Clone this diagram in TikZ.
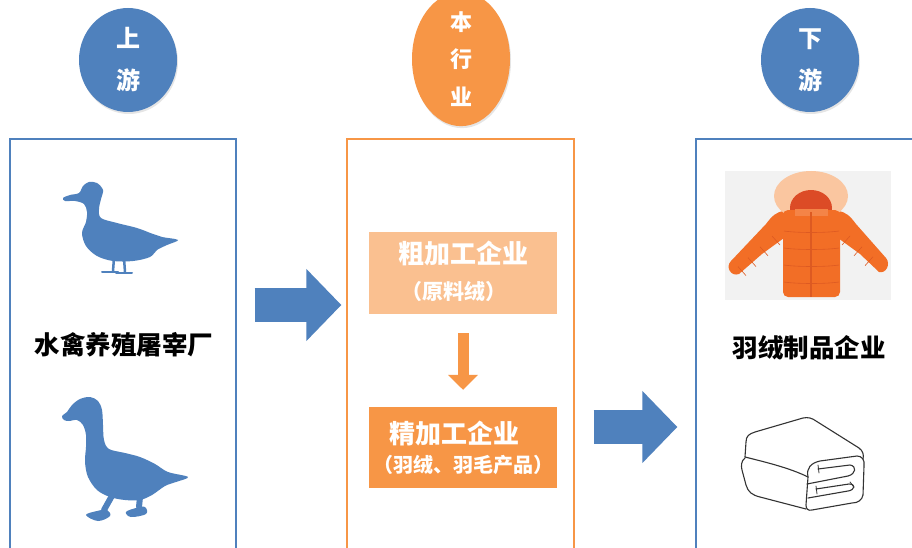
\documentclass[tikz,border=0pt]{standalone}
\usepackage{fontspec}
\setmainfont{Noto Sans CJK SC}
\usetikzlibrary{shapes.geometric,arrows.meta,shadows}

\definecolor{upblue}{HTML}{4F81BD}
\definecolor{midorange}{HTML}{F79646}
\definecolor{lightorange}{HTML}{FAC090}
\definecolor{jacketbg}{HTML}{F2F2F2}
\definecolor{jacket}{HTML}{F26E26}
\definecolor{jacketdark}{HTML}{DD5A22}
\definecolor{fur}{HTML}{FAC6A0}
\definecolor{hood}{HTML}{DC4B26}

\tikzset{
  stage/.style={ellipse, inner sep=0pt, text=white, align=center,
    font=\bfseries\fontsize{24}{42}\selectfont,
    drop shadow={shadow xshift=1pt, shadow yshift=-2pt, opacity=0.2}},
  column/.style={draw, line width=1.3pt, minimum height=422pt, inner sep=0pt},
  procbox/.style={minimum width=188pt, inner sep=0pt},
  flow/.style={draw=upblue, line width=34pt, -{Triangle[length=35pt,width=70pt]}},
  pass/.style={draw=midorange, line width=11pt, -{Triangle[length=15pt,width=29pt]}},
  bird/.style={fill=upblue},
  quilt/.style={draw=jacketdark, line width=0.6pt},
  sheet/.style={draw=black!80, line width=1.1pt, line join=round, line cap=round}
}

\begin{document}
\begin{tikzpicture}[x=1pt,y=-1pt]
\useasboundingbox (0,0) rectangle (912,548);
\fill[white] (0,0) rectangle (912,548);

% stages
\node[stage, fill=upblue, minimum width=98pt, minimum height=104pt] (up) at (128,60) {上\\游};
\node[stage, fill=midorange, minimum width=98pt, minimum height=110pt,
  font=\bfseries\fontsize{22}{37.5}\selectfont] (mid) at (461,59) {本\\行\\业};
\node[stage, fill=upblue, minimum width=98pt, minimum height=104pt] (down) at (810,60) {下\\游};

% columns
\node[column, draw=upblue, minimum width=226pt] (lcol) at (123,350) {};
\node[column, draw=midorange, minimum width=227pt] (mcol) at (460.5,350) {};
\node[column, draw=upblue, minimum width=232pt] (rcol) at (812,350) {};

\node[font=\bfseries\fontsize{25.5}{26}\selectfont] (farm) at (124,345) {水禽养殖屠宰厂};
\node[font=\bfseries\fontsize{25.5}{26}\selectfont] (maker) at (809,348) {羽绒制品企业};

% processing steps
\node[procbox, fill=lightorange, minimum height=82pt] (rough) at (463,273) {};
\node[text=white, font=\bfseries\fontsize{26}{26}\selectfont] (roughname) at (463,254) {粗加工企业};
\node[text=white, font=\bfseries\fontsize{21}{21}\selectfont] (roughsub) at (454,292) {（原料绒）};
\node[procbox, fill=midorange, minimum height=81pt] (fine) at (463,447.5) {};
\node[text=white, font=\bfseries\fontsize{26}{26}\selectfont] (finename) at (454,434) {精加工企业};
\node[text=white, font=\bfseries\fontsize{20}{20}\selectfont] (finesub) at (463,465) {（羽绒、羽毛产品）};

\draw[pass, shorten <=19pt, shorten >=17pt] (rough.south) -- (fine.north);
\draw[flow] ([xshift=18pt,yshift=45pt]lcol.east) -- ([xshift=-5pt,yshift=45pt]mcol.west);
\draw[flow] ([xshift=19pt,yshift=-77pt]mcol.east) -- ([xshift=-18pt,yshift=-77pt]rcol.west);

% duck
\fill[bird] plot[smooth cycle, tension=0.55] coordinates {
  (63,198) (70,195) (79,193) (83,186) (89,182) (97,183) (103,190) (101,199)
  (99,209) (101,218) (117,223) (137,228) (153,234) (162,237) (178,240)
  (167,245) (157,250) (150,257) (133,261) (113,261) (97,256) (86,246)
  (82,233) (86,222) (87,212) (84,204) (75,201) (65,201)};
\draw[upblue, line width=2.5pt] (114,258) -- (113,271) (124,258) -- (125,272);
\draw[upblue, line width=2pt, line cap=round] (102,272) -- (118,272) (116,273) -- (132,273);

% goose
\fill[bird] plot[smooth cycle, tension=0.55] coordinates {
  (62,416) (67,412) (72,405) (80,399) (90,397) (98,401) (102,410) (103,425)
  (104,440) (109,449) (125,453) (140,457) (155,464) (168,472) (188,477)
  (176,482) (165,486) (152,495) (140,500) (125,500) (110,497) (97,490)
  (88,477) (85,462) (86,447) (86,435) (83,425) (77,420) (69,421) (64,420)};
\draw[upblue, line width=6pt, line cap=round] (113,494) -- (104,510) (140,497) -- (139,507);
\fill[bird] plot[smooth cycle, tension=0.6] coordinates {(86,515) (97,511) (107,510) (110,516) (98,521)};
\fill[bird] plot[smooth cycle, tension=0.6] coordinates {(126,512) (136,508) (145,507) (146,514) (131,517)};

% down jacket
\fill[jacketbg] (725,171) rectangle (891,300);
\fill[jacket] (784,211) .. controls (776,212) and (772,216) .. (766,224) -- (731,261)
  .. controls (725,267) and (731,277) .. (739,274) -- (762,254) -- (784,238) -- cycle;
\fill[jacket] (838,211) .. controls (846,212) and (850,216) .. (856,224) -- (886,258)
  .. controls (891,264) and (886,274) .. (879,272) -- (860,254) -- (838,238) -- cycle;
\foreach \u in {772,760,748,738}
  \draw[quilt] (\u,{236+(772-\u)*0.9}) -- ++(8,9);
\foreach \u in {850,862,873}
  \draw[quilt] (\u,{236+(\u-850)*0.9}) -- ++(-8,9);
\fill[fur] (811,196) ellipse [x radius=37, y radius=25];
\fill[hood] (811,208) ellipse [x radius=21, y radius=18];
\fill[jacket, rounded corners=5pt] (783,210) rectangle (840,297);
\fill[jacket!85!white] (795,209) rectangle (828,216);
\foreach \h in {231,248,265,282}
  \draw[quilt] (784,\h) .. controls (797,\h+2) and (826,\h+2) .. (839,\h);
\draw[jacketdark, line width=1.6pt] (811,212) -- (811,297);

% folded quilt
\draw[sheet] (745,457) -- (746,442) .. controls (746,436) and (749,434) .. (755,432)
  -- (803,418) .. controls (808,417) and (812,418) .. (816,421)
  -- (859,448) .. controls (863,451) and (864,455) .. (863,459);
\draw[sheet] (745,457) .. controls (765,462) and (790,468) .. (808,477);
\draw[sheet] (808,477) .. controls (806,468) and (811,463) .. (820,461)
  -- (857,456) .. controls (862,456) and (865,460) .. (864,466)
  -- (863,495) .. controls (862,500) and (858,503) .. (852,503)
  -- (812,510) .. controls (808,511) and (806,509) .. (806,505) -- (808,477);
\draw[sheet] (745,458) .. controls (741,461) and (741,466) .. (742,470)
  -- (746,485) .. controls (748,492) and (752,495) .. (760,497) -- (806,509);
\draw[sheet] (807,484) -- (848,476) .. controls (856,474) and (857,466) .. (850,465) -- (818,469);
\draw[sheet] (808,498) -- (848,491) .. controls (855,490) and (856,484) .. (849,484) -- (816,489);
\draw[sheet, line width=0.8pt] (818,465) -- (819,473) (816,486) -- (817,494) (850,482) -- (854,487);
\end{tikzpicture}
\end{document}
